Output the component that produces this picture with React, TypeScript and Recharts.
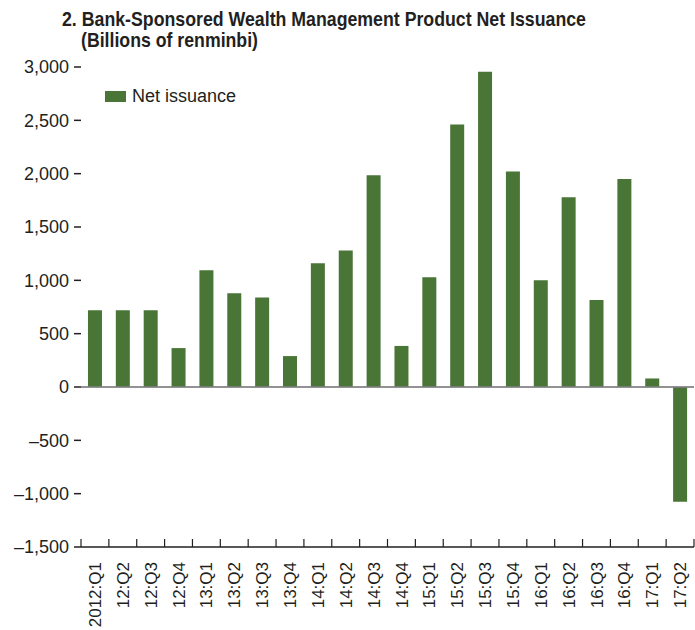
import React from 'react';
import { BarChart, Bar, XAxis, YAxis, Legend, ReferenceLine } from 'recharts';

// quarters shown on the category axis
const quarters = [
  '2012:Q1', '12:Q2', '12:Q3', '12:Q4',
  '13:Q1', '13:Q2', '13:Q3', '13:Q4',
  '14:Q1', '14:Q2', '14:Q3', '14:Q4',
  '15:Q1', '15:Q2', '15:Q3', '15:Q4',
  '16:Q1', '16:Q2', '16:Q3', '16:Q4',
  '17:Q1', '17:Q2',
];

// net issuance, billions of renminbi
const netIssuance = [
  720, 720, 720, 365,
  1095, 880, 840, 290,
  1160, 1280, 1985, 385,
  1030, 2460, 2955, 2020,
  1000, 1780, 815, 1950,
  80, -1075,
];

const yTicks = [-1500, -1000, -500, 0, 500, 1000, 1500, 2000, 2500, 3000];

const title = '2. Bank-Sponsored Wealth Management Product Net Issuance';
const subtitle = '(Billions of renminbi)';
const seriesName = 'Net issuance';

const data = quarters.map((q, i) => ({ quarter: q, value: netIssuance[i] }));

const GREEN = '#497637';
const INK = '#231f20';
const FONT = "'Liberation Sans', Arial, sans-serif";
const LABEL_GAP = 15;

const fmt = (v: number) => {
  const s = Math.abs(v).toLocaleString('en-US');
  return v < 0 ? `\u2013${s}` : s;
};

const QuarterTick = (props: any) => {
  const { x, y, payload, index } = props;
  const half = payload?.offset ?? 0;
  const axisY = y - LABEL_GAP;
  return (
    <g>
      <line x1={x - half} x2={x - half} y1={axisY} y2={axisY - 8} stroke={INK} strokeWidth={1.2} />
      {index === quarters.length - 1 && (
        <line x1={x + half} x2={x + half} y1={axisY} y2={axisY - 8} stroke={INK} strokeWidth={1.2} />
      )}
      <text
        x={x}
        y={y}
        dy="0.36em"
        transform={`rotate(-90, ${x}, ${y})`}
        textAnchor="end"
        fill={INK}
        fontSize={17}
        fontFamily={FONT}
      >
        {payload.value}
      </text>
    </g>
  );
};

const LegendBox = () => (
  <div style={{ display: 'flex', alignItems: 'center', fontFamily: FONT, fontSize: 18, color: INK }}>
    <span style={{ display: 'inline-block', width: 21, height: 11, background: GREEN, marginRight: 6 }} />
    <span>{seriesName}</span>
  </div>
);

export default function App() {
  return (
    <div style={{ position: 'relative', width: 695, height: 630, background: '#fff' }}>
      <style>{'body{margin:0}'}</style>
      <svg width={695} height={60} style={{ position: 'absolute', left: 0, top: 0 }}>
        {/* no condensed face installed, so squeeze the bold sans to the reference widths */}
        <text
          x={62}
          y={26}
          fontFamily={FONT}
          fontWeight="bold"
          fontSize={20.5}
          fill={INK}
          textLength={524}
          lengthAdjust="spacingAndGlyphs"
        >
          {title}
        </text>
        <text
          x={81}
          y={47}
          fontFamily={FONT}
          fontWeight="bold"
          fontSize={20.5}
          fill={INK}
          textLength={177}
          lengthAdjust="spacingAndGlyphs"
        >
          {subtitle}
        </text>
      </svg>
      <BarChart
        width={695}
        height={630}
        data={data}
        margin={{ top: 67, right: 1, bottom: 0, left: 0 }}
        barCategoryGap="25%"
        style={{ position: 'absolute', left: 0, top: 0 }}
      >
        <XAxis
          dataKey="quarter"
          height={83}
          interval={0}
          tickLine={false}
          tickSize={0}
          tickMargin={LABEL_GAP}
          axisLine={{ stroke: INK, strokeWidth: 1.5 }}
          tick={<QuarterTick />}
        />
        <YAxis
          yAxisId="left"
          width={81}
          domain={[-1500, 3000]}
          ticks={yTicks}
          interval={0}
          axisLine={false}
          tickSize={7}
          tickMargin={5}
          tickLine={{ stroke: INK, strokeWidth: 1.5 }}
          tickFormatter={fmt}
          tick={{ fill: INK, fontSize: 18, fontFamily: FONT }}
        />
        <YAxis
          yAxisId="right"
          orientation="right"
          width={0}
          mirror
          domain={[-1500, 3000]}
          ticks={yTicks}
          interval={0}
          axisLine={false}
          tickSize={3}
          tick={false}
          tickLine={{ stroke: INK, strokeWidth: 1.5 }}
        />
        <Legend
          layout="horizontal"
          verticalAlign="middle"
          align="center"
          wrapperStyle={{ top: 86, left: 105, width: 'auto' }}
          content={<LegendBox />}
        />
        <Bar yAxisId="left" dataKey="value" name={seriesName} fill={GREEN} isAnimationActive={false} />
        <ReferenceLine yAxisId="left" y={0} stroke="#7f7f7f" strokeWidth={2} strokeOpacity={0.85} />
      </BarChart>
    </div>
  );
}
